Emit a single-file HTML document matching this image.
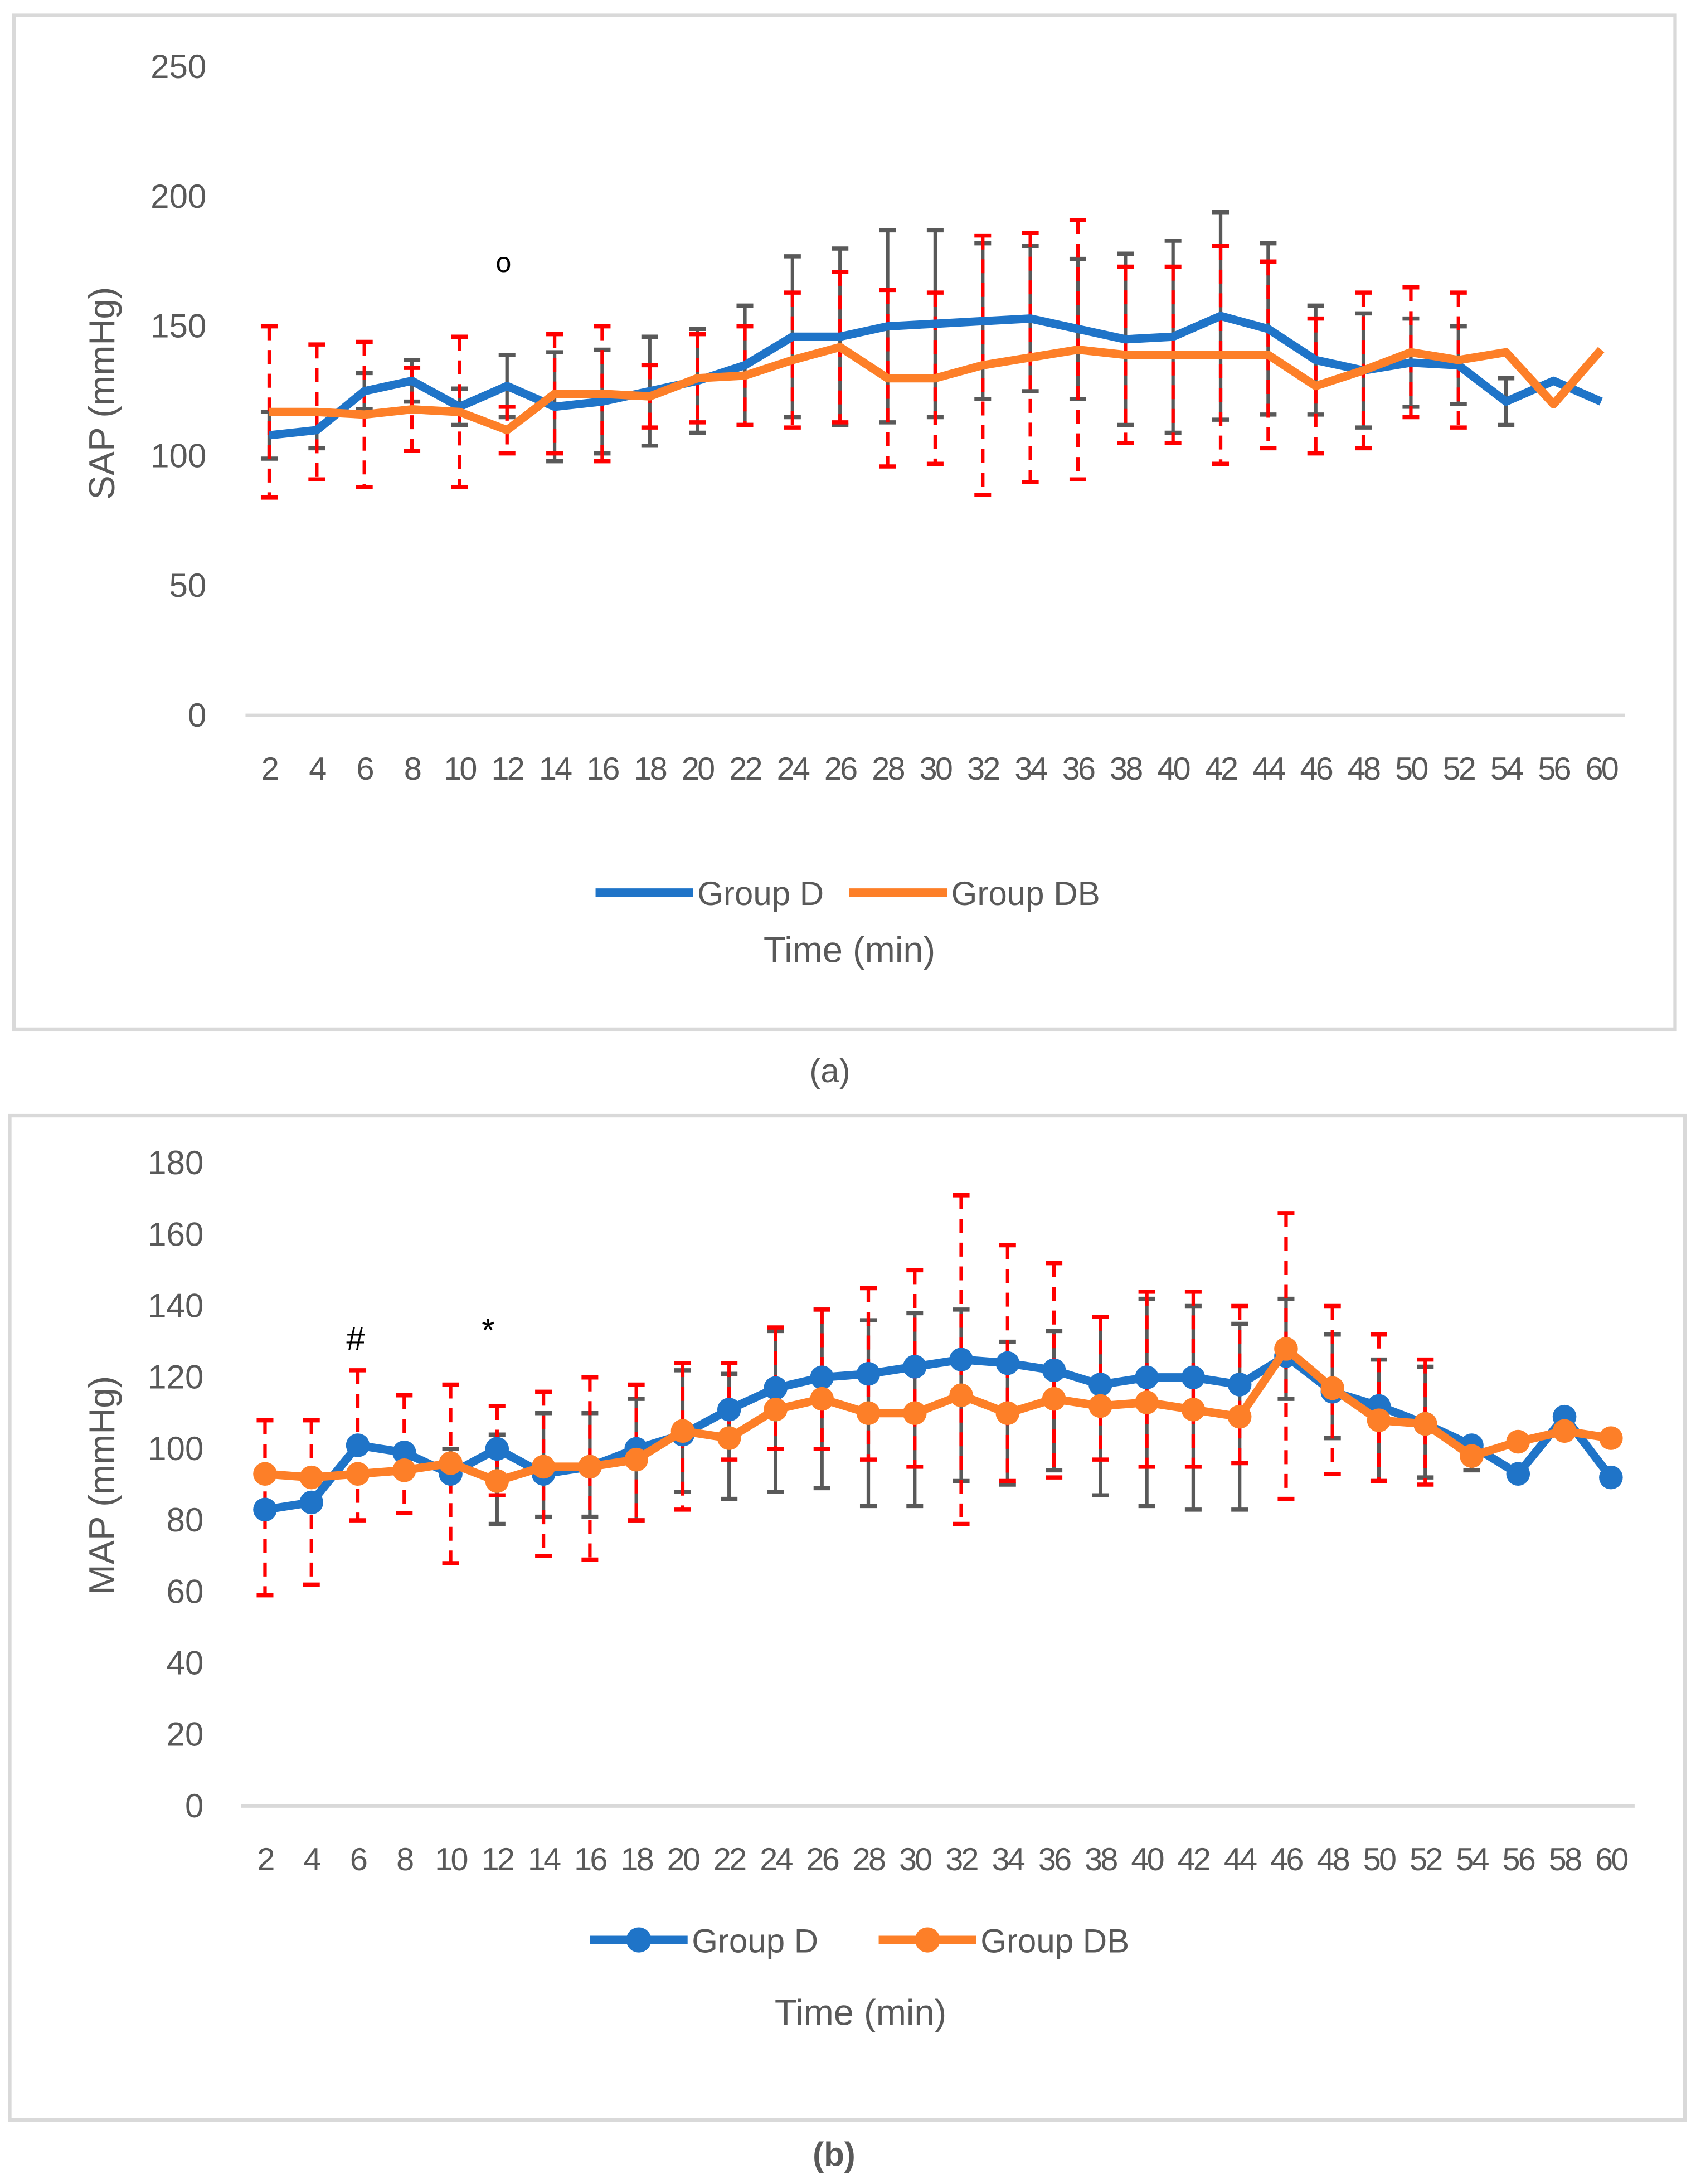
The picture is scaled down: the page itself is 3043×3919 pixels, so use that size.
<!DOCTYPE html>
<html><head><meta charset="utf-8">
<style>
html,body{margin:0;padding:0;background:#fff;}
svg{display:block;}
text{font-family:"Liberation Sans",sans-serif;fill:#595959;}
</style></head>
<body>
<svg id="fig" width="3043" height="3919" viewBox="0 0 1216 1566" preserveAspectRatio="none" xmlns="http://www.w3.org/2000/svg">
<rect x="10" y="11" width="1191" height="727" fill="#fff" stroke="#d9d9d9" stroke-width="2.5"/>
<rect x="7" y="800" width="1201" height="720" fill="#fff" stroke="#d9d9d9" stroke-width="2.5"/>
<g id="ga"></g>
<g id="gb"></g>
<text x="595" y="776" font-size="24" text-anchor="middle">(a)</text>
<text x="598" y="1553" font-size="24" text-anchor="middle" font-weight="bold">(b)</text>
</svg>
<script>
// Chart A (SAP)
const catsA = [2,4,6,8,10,12,14,16,18,20,22,24,26,28,30,32,34,36,38,40,42,44,46,48,50,52,54,56,60];
const sapD  = [108,110,125,129,119,127,119,121,125,129,135,146,146,150,151,152,153,149,145,146,154,149,137,133,136,135,121,129,121];
const sapDB = [117,117,116,118,117,110,124,124,123,130,131,137,142,130,130,135,138,141,139,139,139,139,127,133,140,137,140,120,141];
const sapDsd  = [9,7,7,8,7,12,21,20,21,20,23,31,34,37,36,30,28,27,33,37,40,33,21,22,17,15,9,0,0];
const sapDBsd = [33,26,28,16,29,9,23,26,12,17,19,26,29,34,33,50,48,50,34,34,42,36,26,30,25,26,0,0,0];
const ticksA = [0,50,100,150,200,250];
// Chart B (MAP)
const catsB = [2,4,6,8,10,12,14,16,18,20,22,24,26,28,30,32,34,36,38,40,42,44,46,48,50,52,54,56,58,60];
const mapD  = [83,85,101,99,93,100,93,95,100,104,111,117,120,121,123,125,124,122,118,120,120,118,126,116,112,107,101,93,109,92];
const mapDB = [93,92,93,94,96,91,95,95,97,105,103,111,114,110,110,115,110,114,112,113,111,109,128,117,108,107,98,102,105,103];
const mapDhi = [83,85,101,99,100,104,110,110,114,122,121,133,139,136,138,139,130,133,137,142,140,135,142,132,125,123,101,93,109,92];
const mapDlo = [83,85,101,99,93,79,81,81,80,88,86,88,89,84,84,91,90,94,87,84,83,83,114,103,91,92,94,93,109,92];
const mapDBhi = [108,108,122,115,118,112,116,120,118,124,124,134,139,145,150,171,157,152,137,144,144,140,166,140,132,125,98,102,105,103];
const mapDBlo = [59,62,80,82,68,87,70,69,80,83,97,100,100,97,95,79,91,92,97,95,95,96,86,93,91,90,98,102,105,103];
const ticksB = [0,20,40,60,80,100,120,140,160,180];

const NS='http://www.w3.org/2000/svg';
function mk(parent,tag,attrs){const e=document.createElementNS(NS,tag);for(const k in attrs)e.setAttribute(k,attrs[k]);parent.appendChild(e);return e;}

function draw(g,cfg){
  const xs=i=>cfg.x0+i*(cfg.x1-cfg.x0)/(cfg.cats.length-1);
  const ys=v=>cfg.y0-v*(cfg.y0-cfg.yTop)/cfg.vmax;
  cfg.ticks.forEach(t=>{
    const e=mk(g,'text',{x:cfg.tickX,y:ys(t)+8,'font-size':24,'text-anchor':'end'});
    e.textContent=t;
    
    
  });
  const ax=mk(g,'line',{x1:cfg.ax0,x2:cfg.ax1,y1:cfg.y0,y2:cfg.y0,stroke:'#d9d9d9','stroke-width':2.5});
  
  
  cfg.cats.forEach((c,i)=>{
    const e=mk(g,'text',{x:xs(i),y:cfg.y0+46,'font-size':23,'text-anchor':'middle','letter-spacing':'-1.5'});
    e.textContent=c;
    
    
  });
  const eb=(hi,lo,col,dash,name)=>{
    hi.forEach((h,i)=>{
      const l0=lo[i];
      if(h===l0)return;
      const x=xs(i),a=ys(h),b=ys(l0);
      const l=mk(g,'line',{x1:x,x2:x,y1:a,y2:b,stroke:col,'stroke-width':2.5});
      if(dash)l.setAttribute('stroke-dasharray','10,7');
      
      
      [a,b].forEach(y=>{
        const cp=mk(g,'line',{x1:x-6,x2:x+6,y1:y,y2:y,stroke:col,'stroke-width':3});
        
        
      });
    });
  };
  eb(cfg.dhi,cfg.dlo,'#595959',false,'error-bar-group-d');
  eb(cfg.dbhi,cfg.dblo,'#ff0000',true,'error-bar-group-db');
  const line=(vals,col,name)=>{
    const p=mk(g,'polyline',{points:vals.map((v,i)=>xs(i)+','+ys(v)).join(' '),fill:'none',stroke:col,'stroke-width':cfg.lw,'stroke-linejoin':'round'});
    
    
    if(cfg.markers)vals.forEach((v,i)=>{
      const c=mk(g,'circle',{cx:xs(i),cy:ys(v),r:8.5,fill:col});
      
      
    });
  };
  line(cfg.d,'#1f74c8','series-group-d');
  line(cfg.db,'#fd7f28','series-group-db');
  const yt=mk(g,'text',{x:0,y:0,'font-size':26,'text-anchor':'middle',transform:`translate(${cfg.ytX},${cfg.ytY}) rotate(-90)`});
  yt.textContent=cfg.ytitle;
  
  
  const xt=mk(g,'text',{x:cfg.xtX,y:cfg.xtY,'font-size':26,'text-anchor':'middle'});
  xt.textContent='Time (min)';
  
  
  const L=cfg.leg;
  [[L.x1,'#1f74c8','Group D','legend-entry-group-d'],[L.x2,'#fd7f28','Group DB','legend-entry-group-db']].forEach(([x,col,t,n])=>{
    const ln=mk(g,'line',{x1:x,x2:x+70,y1:L.y,y2:L.y,stroke:col,'stroke-width':cfg.lw});
    
    
    if(cfg.markers){const c=mk(g,'circle',{cx:x+35,cy:L.y,r:9,fill:col});
      
      }
    const tx=mk(g,'text',{x:x+73,y:L.y+9,'font-size':24});
    tx.textContent=t;
    
    
  });
}
const ga=document.getElementById('ga'),gb=document.getElementById('gb');
draw(ga,{cats:catsA,d:sapD,db:sapDB,
  dhi:sapD.map((v,i)=>v+sapDsd[i]),dlo:sapD.map((v,i)=>v-sapDsd[i]),
  dbhi:sapDB.map((v,i)=>v+sapDBsd[i]),dblo:sapDB.map((v,i)=>v-sapDBsd[i]),
  ticks:ticksA,x0:193,x1:1148,y0:513,yTop:48,vmax:250,
  tickX:148,ax0:176,ax1:1165,lw:6,markers:false,ytitle:'SAP (mmHg)',ytX:82,ytY:282,xtX:609,xtY:690,leg:{x1:427,x2:609,y:640}});
draw(gb,{cats:catsB,d:mapD,db:mapDB,dhi:mapDhi,dlo:mapDlo,dbhi:mapDBhi,dblo:mapDBlo,
  ticks:ticksB,x0:190,x1:1155,y0:1295,yTop:834,vmax:180,
  tickX:146,ax0:173,ax1:1172,lw:6,markers:true,ytitle:'MAP (mmHg)',ytX:82,ytY:1065,xtX:617,xtY:1452,leg:{x1:423,x2:630,y:1391}});
const ann=[[361,195,'o','annotation-circle',20],[255,968,'#','annotation-hash',24],[350,962,'*','annotation-star',24]];
ann.forEach(([x,y,t,n,s])=>{
  const e=mk(document.getElementById('fig'),'text',{x:x,y:y,'font-size':s,'text-anchor':'middle',style:'fill:#000'});
  e.textContent=t;
  
  
});
</script>
</body></html>
